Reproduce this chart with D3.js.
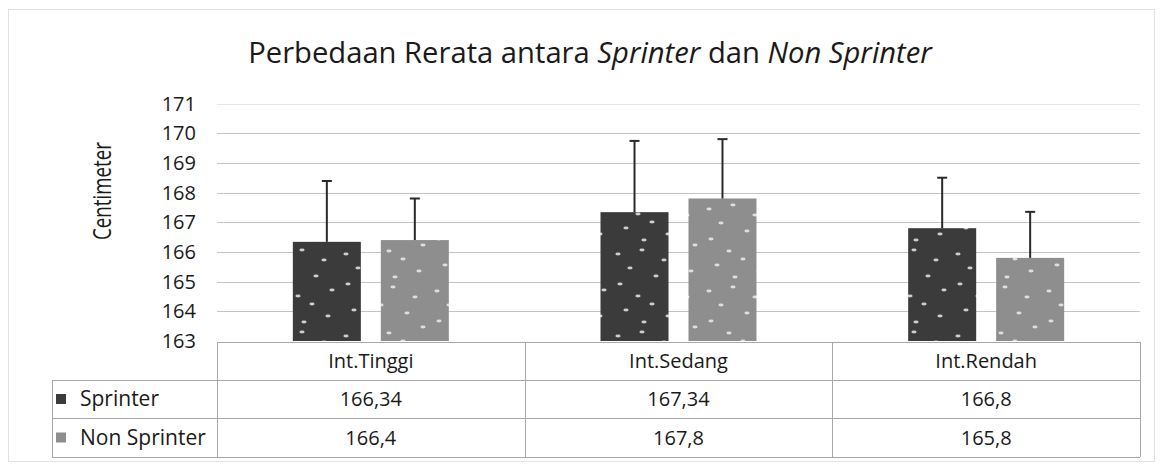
<!DOCTYPE html>
<html>
<head>
<meta charset="utf-8">
<script src="https://cdn.jsdelivr.net/npm/d3@7"></script>
<style>
  body { margin: 0; background: #fff; }
  svg { display: block; font-family: "Open Sans", sans-serif; }
</style>
</head>
<body>
<svg id="chart" width="1162" height="468"></svg>
<script>
// data
const categories = ["Int.Tinggi", "Int.Sedang", "Int.Rendah"];
const seriesNames = ["Sprinter", "Non Sprinter"];
const sprinter = [166.34, 167.34, 166.8];
const nonSprinter = [166.4, 167.8, 165.8];
const sprinterErr = [2.05, 2.4, 1.7];
const nonSprinterErr = [1.4, 2.0, 1.55];
const yTicks = [163, 164, 165, 166, 167, 168, 169, 170, 171];

const seriesColor = ["#3b3b3b", "#8e8e8e"];

const svg = d3.select("#chart");
const W = 1162, H = 468;
const plot = {left: 217, right: 1140, top: 103.5, bottom: 341};
const table = {left: 52, top: 342, rowH: [38, 38, 39]};

// faint outer frame
svg.append("rect")
   .attr("x", 8.5).attr("y", 9.5)
   .attr("width", W - 16).attr("height", H - 16)
   .attr("fill", "none").attr("stroke", "#e2e2e2");

// texture for bars (scanned speckle look)
const defs = svg.append("defs");
const speckles = [[6,8],[30,4],[52,14],[18,22],[44,30],[8,38],[60,44],[26,50],[40,58],[14,64],[56,70],[32,76]];
seriesColor.forEach((c, i) => {
    const p = defs.append("pattern")
        .attr("id", "tex" + i)
        .attr("patternUnits", "userSpaceOnUse")
        .attr("width", 68).attr("height", 82)
        .attr("x", i * 23).attr("y", i * 37);
    p.append("rect").attr("width", 68).attr("height", 82).attr("fill", c);
    p.selectAll("ellipse").data(speckles).join("ellipse")
        .attr("cx", d => d[0]).attr("cy", d => d[1])
        .attr("rx", 2.6).attr("ry", 1.4)
        .attr("fill", "#f2f2f2").attr("opacity", 0.8);
});

const y = d3.scaleLinear().domain([163, 171]).range([plot.bottom, plot.top]);
const x = d3.scaleBand().domain(categories).range([plot.left, plot.right]);
const xs = d3.scaleBand().domain(seriesNames).range([0, x.bandwidth()])
             .paddingInner(0.227).paddingOuter(0.862);

// gridlines
svg.append("g").selectAll("line")
   .data(yTicks.slice(1))
   .join("line")
   .attr("x1", plot.left).attr("x2", plot.right)
   .attr("y1", d => Math.round(y(d)) + 0.5).attr("y2", d => Math.round(y(d)) + 0.5)
   .attr("stroke", d => d === 171 ? "#e8e8e8" : "#c4c4c4")
   .attr("stroke-width", 1);

// y tick labels
svg.append("g").selectAll("text")
   .data(yTicks)
   .join("text")
   .attr("x", 196).attr("y", d => y(d))
   .attr("dy", "0.35em")
   .attr("text-anchor", "end")
   .attr("font-size", 20)
   .attr("fill", "#1a1a1a")
   .text(d => d);

// y axis title (the scan is stretched sideways, so squeeze it to its length)
svg.append("text")
   .attr("transform", "translate(111,191) rotate(-90)")
   .attr("text-anchor", "middle")
   .attr("font-size", 25)
   .attr("textLength", 98)
   .attr("lengthAdjust", "spacingAndGlyphs")
   .attr("fill", "#1a1a1a")
   .text("Centimeter");

// title, fitted to its width in the picture
const title = svg.append("text")
   .attr("x", 590).attr("y", 63)
   .attr("text-anchor", "middle")
   .attr("font-size", 26)
   .attr("fill", "#1a1a1a");
[["Perbedaan Rerata antara ", false], ["Sprinter", true], [" dan ", false], ["Non Sprinter", true]]
   .forEach(([t, it]) => title.append("tspan").attr("font-style", it ? "italic" : "normal").text(t));
const tw = title.node().getComputedTextLength();
title.attr("font-size", 26 * 684 / tw);

// bars
const series = [
    {name: seriesNames[0], values: sprinter, err: sprinterErr},
    {name: seriesNames[1], values: nonSprinter, err: nonSprinterErr}
];
const barData = series.flatMap((s, si) => categories.map((c, ci) => ({
    cat: c, name: s.name, si: si, v: s.values[ci], e: s.err[ci]
})));

svg.append("g").selectAll("rect")
   .data(barData)
   .join("rect")
   .attr("x", d => x(d.cat) + xs(d.name))
   .attr("width", xs.bandwidth())
   .attr("y", d => y(d.v))
   .attr("height", d => y(163) - y(d.v))
   .attr("fill", d => `url(#tex${d.si})`);

// error bars (plus side only)
const eb = svg.append("g").attr("stroke", "#2a2a2a").attr("stroke-width", 2);
eb.selectAll(".stem")
  .data(barData)
  .join("line")
  .attr("class", "stem")
  .attr("x1", d => x(d.cat) + xs(d.name) + xs.bandwidth() / 2)
  .attr("x2", d => x(d.cat) + xs(d.name) + xs.bandwidth() / 2)
  .attr("y1", d => y(d.v))
  .attr("y2", d => y(d.v + d.e));
eb.selectAll(".cap")
  .data(barData)
  .join("line")
  .attr("class", "cap")
  .attr("x1", d => x(d.cat) + xs(d.name) + xs.bandwidth() / 2 - 5)
  .attr("x2", d => x(d.cat) + xs(d.name) + xs.bandwidth() / 2 + 5)
  .attr("y1", d => y(d.v + d.e))
  .attr("y2", d => y(d.v + d.e));

// data table
const rowY = [table.top];
table.rowH.forEach((h, i) => rowY.push(rowY[i] + h));
const tg = svg.append("g").attr("stroke", "#a8a8a8").attr("stroke-width", 1);
tg.append("line").attr("x1", plot.left).attr("x2", plot.right).attr("y1", rowY[0] + 0.5).attr("y2", rowY[0] + 0.5);
rowY.slice(1).forEach(ry => {
    tg.append("line").attr("x1", table.left).attr("x2", plot.right).attr("y1", ry + 0.5).attr("y2", ry + 0.5);
});
tg.append("line").attr("x1", table.left + 0.5).attr("x2", table.left + 0.5).attr("y1", rowY[1]).attr("y2", rowY[3]);
tg.selectAll(".vsep")
  .data(categories.map(c => x(c)).concat([plot.right]))
  .join("line")
  .attr("class", "vsep")
  .attr("x1", d => Math.round(d) + 0.5).attr("x2", d => Math.round(d) + 0.5)
  .attr("y1", rowY[0]).attr("y2", rowY[3]);

const fmt = v => String(v).replace(".", ",");
const cellText = svg.append("g").attr("font-size", 20).attr("fill", "#1a1a1a").attr("text-anchor", "middle");
cellText.selectAll(".cat")
  .data(categories)
  .join("text")
  .attr("class", "cat")
  .attr("x", d => x(d) + x.bandwidth() / 2)
  .attr("y", (rowY[0] + rowY[1]) / 2)
  .attr("dy", "0.35em")
  .text(d => d);
series.forEach((s, si) => {
    cellText.selectAll(".val" + si)
      .data(s.values)
      .join("text")
      .attr("class", "val" + si)
      .attr("x", (d, i) => x(categories[i]) + x.bandwidth() / 2)
      .attr("y", (rowY[si + 1] + rowY[si + 2]) / 2)
      .attr("dy", "0.35em")
      .text(d => fmt(d));
});

// legend keys inside the table
const lg = svg.append("g");
series.forEach((s, si) => {
    const cy = (rowY[si + 1] + rowY[si + 2]) / 2;
    lg.append("rect")
      .attr("x", 56).attr("y", cy - 5)
      .attr("width", 10).attr("height", 10)
      .attr("fill", seriesColor[si]);
    lg.append("text")
      .attr("x", 80).attr("y", cy)
      .attr("dy", "0.35em")
      .attr("font-size", 21)
      .attr("fill", "#1a1a1a")
      .text(s.name);
});
</script>
</body>
</html>
